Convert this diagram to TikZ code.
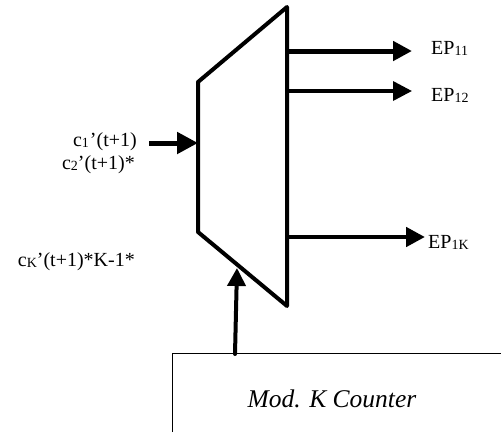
\documentclass[tikz,border=0pt]{standalone}
\usepackage{fontspec}
\setmainfont{Liberation Serif}
\usetikzlibrary{arrows.meta}
\newcommand{\subText}[1]{{\fontsize{14pt}{14pt}\selectfont\raisebox{-1.5pt}{#1}}}

\begin{document}
\begin{tikzpicture}[x=1pt, y=-1pt,
    % --- Styles ---
    muxLine/.style={
      line width=4pt,
      line join=round
    },
    busArrow/.style={
      line width=#1,
      -{Triangle[length=19pt, width=19pt]}
    },
    sigLabel/.style={
      inner sep=0pt,
      font=\fontsize{20pt}{20pt}\selectfont
    }
]
\useasboundingbox (0,0) rectangle (501,432);

%=====================
% Multiplexer outline
%=====================
\coordinate (muxTL) at (198,82);
\coordinate (muxTR) at (287,7);
\coordinate (muxBR) at (287,306);
\coordinate (muxBL) at (198,232);
\draw[muxLine] (muxTL) -- (muxTR) -- (muxBR) -- (muxBL) -- cycle;

%=====================
% Output arrows and labels
%=====================
\coordinate (outA) at (287,51);
\coordinate (outB) at (287,91);
\coordinate (outC) at (287,237);
\node[sigLabel, anchor=base west] (epA) at (431,54) {EP\subText{11}};
\node[sigLabel, anchor=base west] (epB) at (431,101) {EP\subText{12}};
\node[sigLabel, anchor=base west] (epC) at (428,248) {EP\subText{1K}};
\coordinate (tipA) at (412,51);
\coordinate (tipB) at (412,91);
\coordinate (tipC) at (425,237);
\draw[busArrow=5pt] (outA) -- (tipA);
\draw[busArrow=3.5pt] (outB) -- (tipB);
\draw[busArrow=4.7pt] (outC) -- (tipC);

%=====================
% Input arrow and labels
%=====================
\coordinate (inStart) at (149,143);
\coordinate (inEnd) at (198,143);
\draw[line width=5pt, -{Triangle[length=21pt, width=21pt]}] (inStart) -- (inEnd);
\node[sigLabel, anchor=base east] (inA) at (137,146) {c\subText{1}\kern1pt’(t+1)};
\node[sigLabel, anchor=base east] (inB) at (135,169) {c\subText{2}’(t+1)*};
\node[sigLabel, anchor=base east] (inC) at (135,266) {c\subText{K}’(t+1)*K-1*};

%=====================
% Counter box, cut off by the page
%=====================
\coordinate (boxBL) at (172,432);
\coordinate (boxTL) at (172,353);
\coordinate (boxTR) at (501,353);
\draw[line width=0.8pt] (boxBL) -- (boxTL) -- (boxTR);
\node[sigLabel, font=\fontsize{25.5pt}{25.5pt}\selectfont\itshape] (counter) at (332,399) {Mod. K Counter};
\coordinate (ctrStart) at (235,354);
\coordinate (ctrEnd) at (237,268);
\draw[line width=4pt, line cap=round, -{Triangle[length=18pt, width=18pt]}] (ctrStart) -- (ctrEnd);

\end{tikzpicture}
\end{document}
